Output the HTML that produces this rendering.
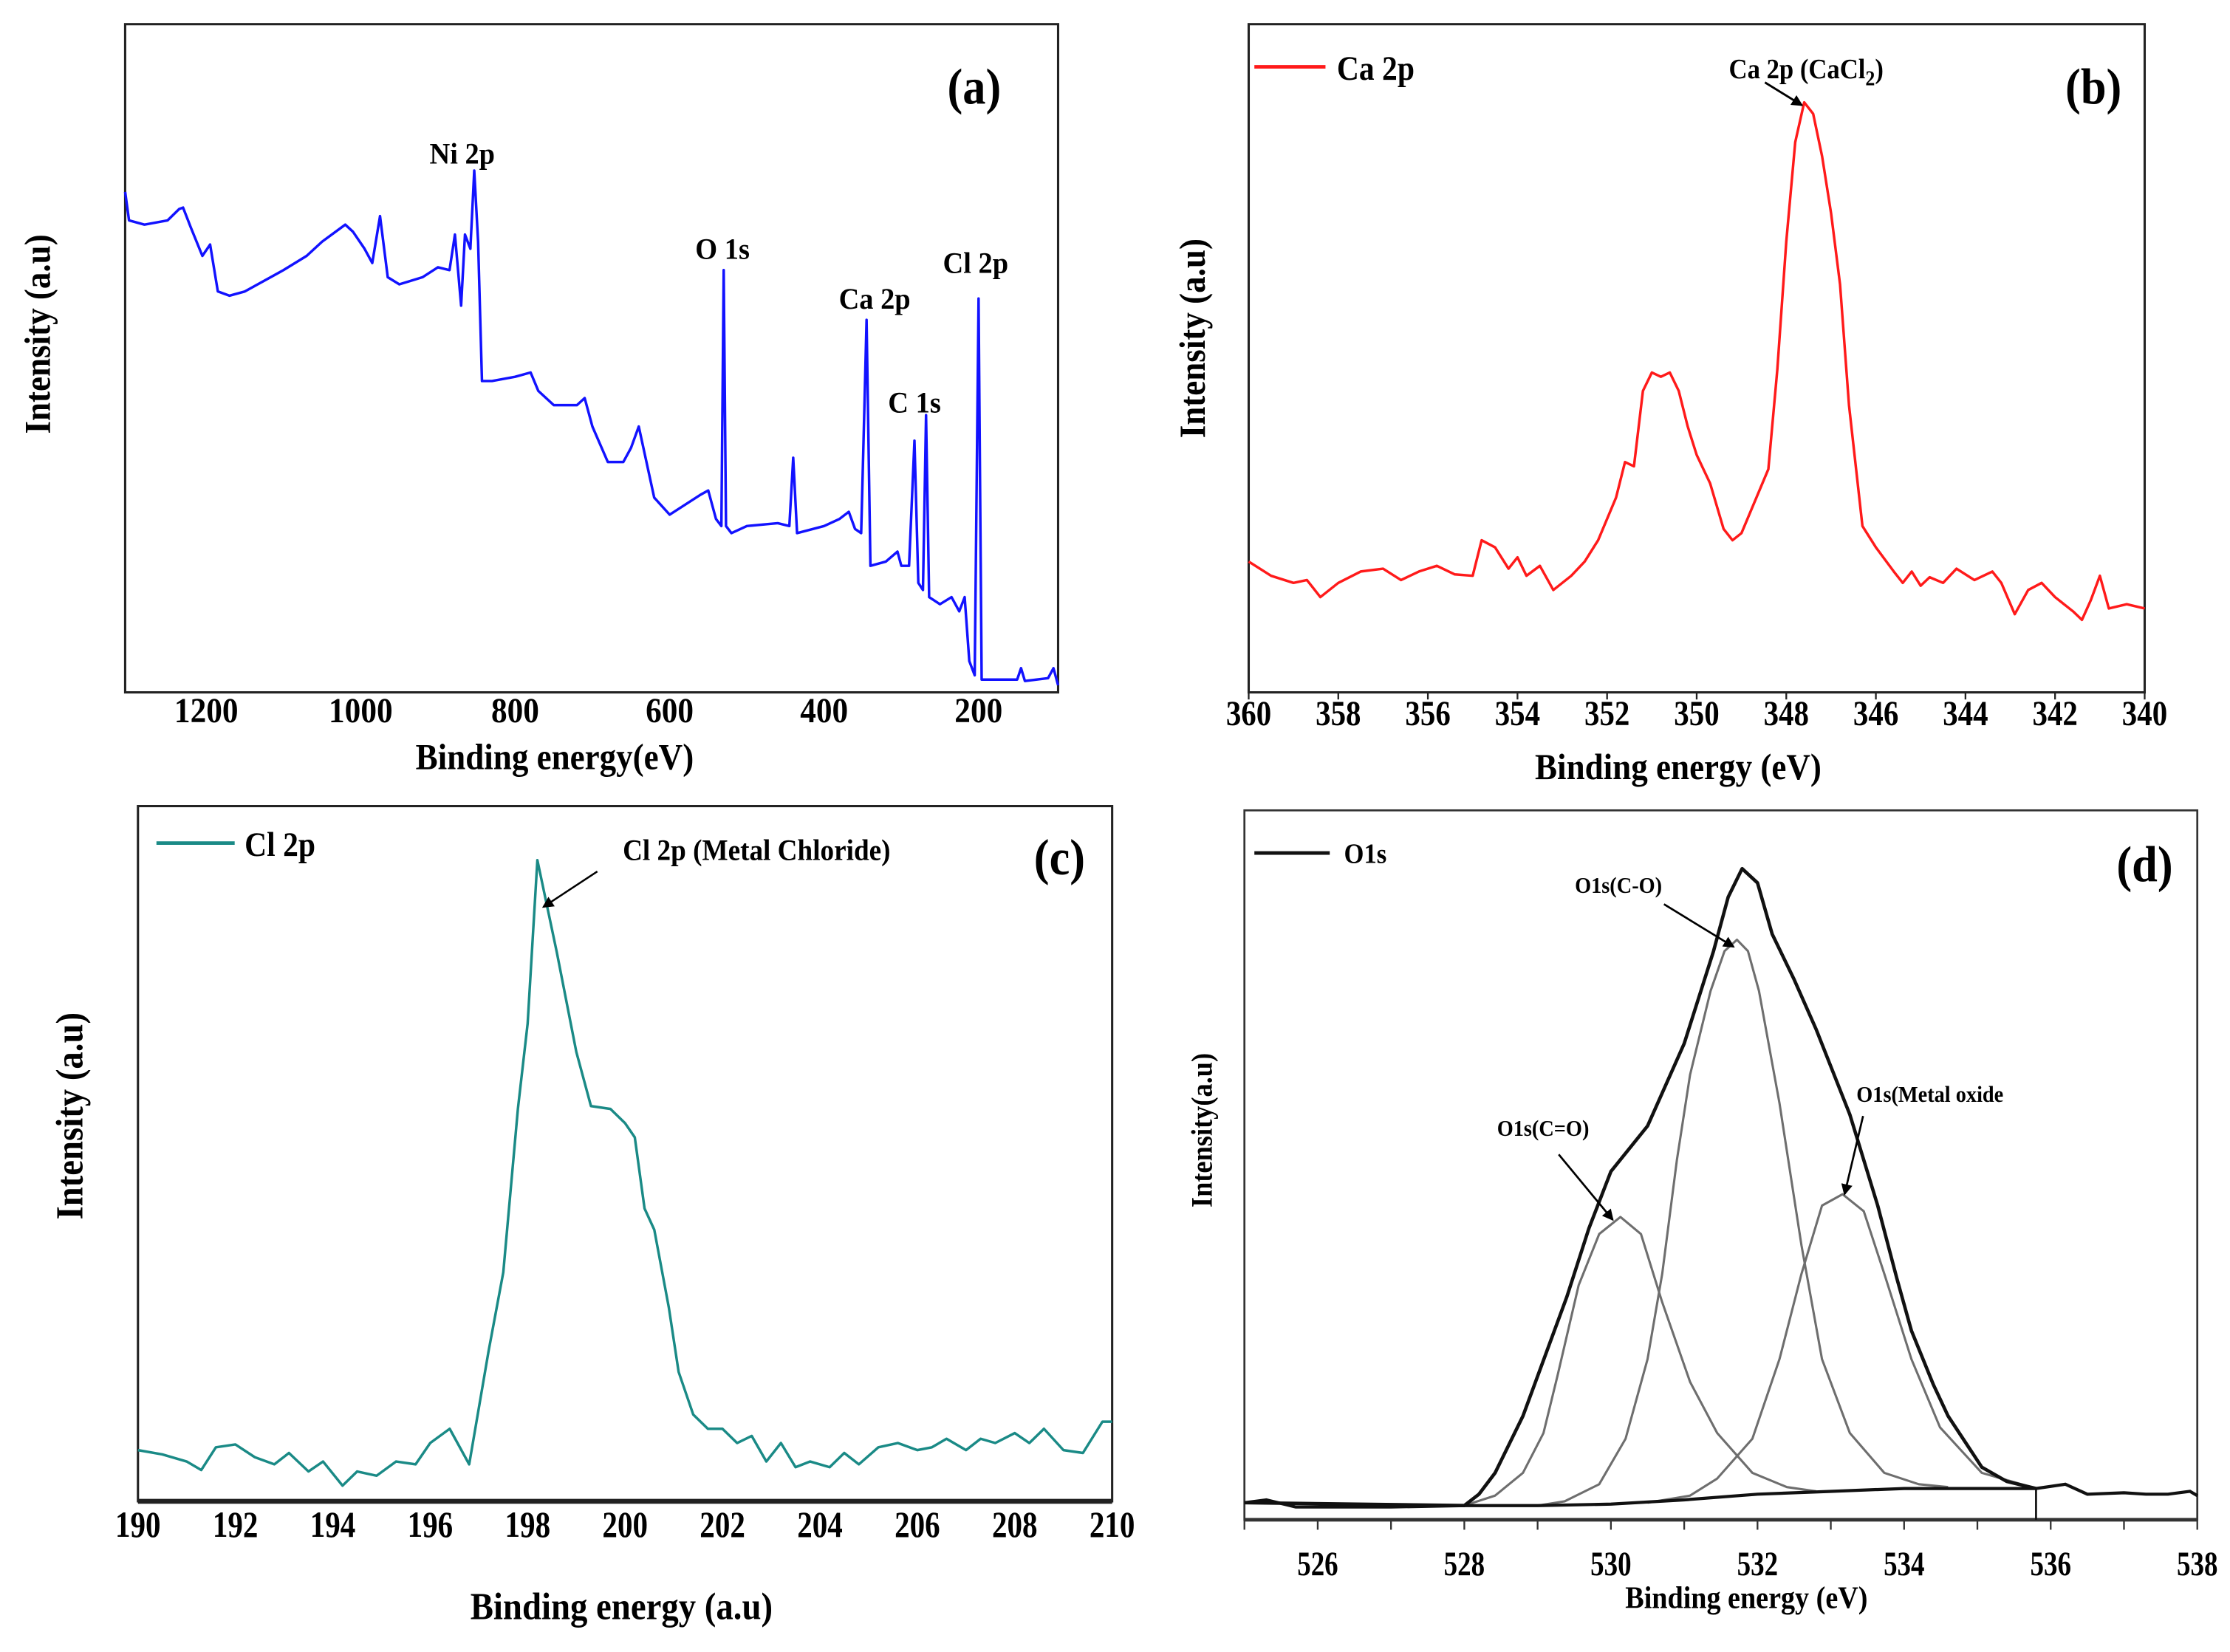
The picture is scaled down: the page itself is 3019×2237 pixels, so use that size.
<!DOCTYPE html>
<html><head><meta charset="utf-8">
<style>
html,body{margin:0;padding:0;background:#fff;}
svg{display:block;}
text{font-family:"Liberation Serif",serif;font-weight:bold;fill:#000;}
</style></head>
<body>
<svg id="fig" width="3019" height="2237" viewBox="0 0 1568 1162" preserveAspectRatio="none" xmlns="http://www.w3.org/2000/svg">
<defs>
<marker id="arr" markerWidth="8" markerHeight="8" refX="7" refY="4" orient="auto" markerUnits="userSpaceOnUse">
<path d="M0,0 L8,4 L0,8 z" fill="#000"/>
</marker>
</defs>
</svg>
<script>
// ---------- Panel (a) survey ----------
const surveyEnergy = [1305,1300,1280,1250,1235,1230,1220,1205,1195,1185,1170,1150,1100,1070,1050,1020,1010,995,985,975,965,950,920,900,885,878,870,865,858,853,848,843,830,800,780,770,750,720,710,700,680,660,650,640,630,620,600,560,550,540,533,530,527,520,500,460,445,440,435,400,380,368,360,352,348,345,340,320,305,300,290,283,278,272,268,264,250,235,225,218,212,205,200,196,180,150,145,140,110,103,97];
const surveyIntensity = [352,332,329,332,340,341,327,307,315,282,279,282,297,307,317,329,324,312,302,335,292,287,292,299,297,322,272,322,312,367,317,219,219,222,225,212,202,202,207,187,162,162,172,187,162,137,125,139,142,122,117,297,117,112,117,119,117,165,112,117,122,127,115,112,197,262,89,92,99,89,89,177,77,72,195,67,62,67,57,67,22,12,277,9,9,9,17,8,10,17,5];
const surveyTicks = [1200,1000,800,600,400,200];
// ---------- Panel (b) Ca 2p ----------
const caEnergy = [360,359.5,359,358.7,358.4,358,357.5,357,356.6,356.2,355.8,355.4,355,354.8,354.5,354.2,354,353.8,353.5,353.2,353,352.8,352.5,352.2,351.8,351.6,351.4,351.2,351,350.8,350.6,350.4,350.2,350,349.7,349.4,349.2,349,348.6,348.4,348.2,348,347.8,347.6,347.4,347.2,347,346.8,346.6,346.3,346,345.6,345.4,345.2,345,344.8,344.5,344.2,343.8,343.4,343.2,342.9,342.6,342.3,342,341.6,341.4,341.2,341,340.8,340.4,340];
const caIntensity = [92,82,77,79,67,77,85,87,79,85,89,83,82,107,102,87,95,82,89,72,77,82,92,107,137,162,159,212,225,222,225,212,187,167,147,115,107,112,142,157,227,317,387,415,407,377,337,287,202,117,102,85,77,85,75,81,77,87,79,85,77,55,72,77,67,57,51,65,82,59,62,59];
const caTicks = [360,358,356,354,352,350,348,346,344,342,340];
// ---------- Panel (c) Cl 2p ----------
const clEnergy = [190,190.5,191,191.3,191.6,192,192.4,192.8,193.1,193.5,193.8,194.2,194.5,194.9,195.3,195.7,196,196.4,196.8,197.2,197.5,197.8,198,198.2,198.6,199,199.3,199.7,200,200.2,200.4,200.6,200.9,201.1,201.4,201.7,202,202.3,202.6,202.9,203.2,203.5,203.8,204.2,204.5,204.8,205.2,205.6,206,206.3,206.6,207,207.3,207.6,208,208.3,208.6,209,209.4,209.8,210];
const clIntensity = [36,33,28,22,38,40,31,26,34,21,28,11,21,18,28,26,41,51,26,106,161,276,336,451,386,316,278,276,266,256,206,191,136,91,61,51,51,41,46,28,41,24,28,24,34,26,38,41,36,38,44,36,44,41,48,41,51,36,34,56,56];
const clTicks = [190,192,194,196,198,200,202,204,206,208,210];
// ---------- Panel (d) O 1s ----------
const oBaseE = [525,525.3,525.7,526,527,528,529,530,531,532,533,534,535,535.8,536.2,536.5,537,537.3,537.6,537.9,538];
const oBaseI = [12,14,9,9,9,10,10,11,14,18,20,22,22,22,25,18,19,18,18,20,17];
const oEnvE = [525,528,528.2,528.42,528.8,529.1,529.4,529.7,530,530.5,531,531.4,531.6,531.79,532,532.2,532.5,532.8,533.26,533.64,533.9,534.1,534.4,534.6,535.06,535.4,535.8];
const oEnvI = [12,10,18,33,73,115,157,205,245,277,335,400,438,458,448,412,380,345,285,221,170,133,95,73,37,27,22];
const oCOE = [529,529.37,529.84,530.2,530.5,530.7,530.9,531.08,531.36,531.55,531.72,531.87,532.02,532.3,532.6,532.88,533.26,533.73,534.2,534.6];
const oCOI = [10,13,25,57,113,173,253,313,372,400,408,400,372,293,193,113,61,33,25,23];
const oCdOE = [528,528.42,528.8,529.08,529.27,529.56,529.84,530.13,530.41,530.7,531.08,531.45,531.93,532.4,532.8];
const oCdOI = [10,17,33,61,101,165,201,213,201,153,97,61,33,23,20];
const oMOE = [530.5,531.08,531.45,531.93,532.3,532.6,532.88,533.16,533.45,533.73,534.1,534.49,535.06,535.6,535.8];
const oMOI = [12,17,29,57,113,173,221,229,217,173,113,65,33,25,22];
const oTicks = [526,528,530,532,534,536,538];
const oMinor = [525,527,529,531,533,535,537];

const NS = "http://www.w3.org/2000/svg";
const svg = document.getElementById('fig');
function el(tag, attrs, parent){
  const e = document.createElementNS(NS, tag);
  for (const k in attrs) e.setAttribute(k, attrs[k]);
  (parent || svg).appendChild(e);
  return e;
}
function txt(s, x, y, size, anchor, sx, parent, rot){
  const t = el('text', {'font-size': size, 'text-anchor': anchor || 'middle'}, parent);
  let tr = 'translate(' + x + ',' + y + ')';
  if (rot) tr += ' rotate(' + rot + ')';
  tr += ' scale(' + (sx || 1) + ',1)';
  t.setAttribute('transform', tr);
  t.textContent = s;
  return t;
}
function lin(d0, d1, r0, r1){ return v => r0 + (v - d0) * (r1 - r0) / (d1 - d0); }
function path(xs, ys, sx, sy){
  let d = '';
  for (let i = 0; i < xs.length; i++) d += (i ? 'L' : 'M') + sx(xs[i]).toFixed(2) + ',' + sy(ys[i]).toFixed(2);
  return d;
}

// ===== Panel a =====
{
  const g = el('g', {});
  
  
  const L = 88, R = 744, T = 17, B = 487;
  const sx = lin(1305, 97, L, R), sy = lin(0, 470, B, T);
  const fr = el('rect', {x: L, y: T, width: R - L, height: B - T, fill: 'none', stroke: '#222', 'stroke-width': 1.6}, g);
  
  
  const p = el('path', {d: path(surveyEnergy, surveyIntensity, sx, sy), fill: 'none', stroke: '#1212ff', 'stroke-width': 1.8, 'stroke-linejoin': 'round'}, g);
  
  
  surveyTicks.forEach(v => {
    const t = txt(String(v), sx(v), 508, 25, 'middle', 0.9, g);
    
    
  });
  let t = txt('Binding energy(eV)', 390, 541, 26, 'middle', 0.9, g);
   
  t = txt('Intensity (a.u)', 35, 235, 26, 'middle', 0.9, g, -90);
   
  t = txt('(a)', 685, 73, 36, 'middle', 0.9, g);
   
  [['Ni 2p', 325, 115], ['O 1s', 508, 182], ['Ca 2p', 615, 217], ['C 1s', 643, 290], ['Cl 2p', 686, 192]].forEach(a => {
    const q = txt(a[0], a[1], a[2], 21, 'middle', 0.95, g);
    
    
  });
}

// ===== Panel b =====
{
  const g = el('g', {});
  
  
  const L = 878, R = 1508, T = 17, B = 487;
  const sx = lin(360, 340, L, R), sy = lin(0, 470, B, T);
  const fr = el('rect', {x: L, y: T, width: R - L, height: B - T, fill: 'none', stroke: '#222', 'stroke-width': 1.6}, g);
  
  
  const p = el('path', {d: path(caEnergy, caIntensity, sx, sy), fill: 'none', stroke: '#ff1a1a', 'stroke-width': 1.8, 'stroke-linejoin': 'round'}, g);
  
  
  caTicks.forEach(v => {
    const k = el('line', {x1: sx(v), x2: sx(v), y1: B, y2: B + 5, stroke: '#222', 'stroke-width': 1.2}, g);
    
    
    const t = txt(String(v), sx(v), 510, 25, 'middle', 0.85, g);
    
    
  });
  let t = txt('Binding energy (eV)', 1180, 548, 26, 'middle', 0.9, g);
   
  t = txt('Intensity (a.u)', 847, 238, 26, 'middle', 0.9, g, -90);
   
  t = txt('(b)', 1472, 73, 36, 'middle', 0.9, g);
   
  const lg = el('line', {x1: 882, x2: 932, y1: 47, y2: 47, stroke: '#ff1a1a', 'stroke-width': 2.5}, g);
   
  t = txt('Ca 2p', 940, 56, 24, 'start', 0.9, g);
   
  t = el('text', {'font-size': 20, 'text-anchor': 'middle', transform: 'translate(1270,55) scale(0.9,1)'}, g);
  t.innerHTML = 'Ca 2p (CaCl<tspan font-size="15" dy="5">2</tspan><tspan dy="-5">)</tspan>';
   
  const a = el('line', {x1: 1241, y1: 58, x2: 1267, y2: 74, stroke: '#000', 'stroke-width': 1.5, 'marker-end': 'url(#arr)'}, g);
   
}

// ===== Panel c =====
{
  const g = el('g', {});
  
  
  const L = 97, R = 782, T = 567, B = 1056;
  const sx = lin(190, 210, L, R), sy = lin(0, 489, B, T);
  const fr = el('rect', {x: L, y: T, width: R - L, height: B - T, fill: 'none', stroke: '#222', 'stroke-width': 1.6}, g);
  
  
  const ax = el('line', {x1: L, x2: R, y1: B, y2: B, stroke: '#222', 'stroke-width': 3.5}, g);
   
  const p = el('path', {d: path(clEnergy, clIntensity, sx, sy), fill: 'none', stroke: '#1a8a86', 'stroke-width': 1.8, 'stroke-linejoin': 'round'}, g);
  
  
  clTicks.forEach(v => {
    const t = txt(String(v), sx(v), 1081, 26, 'middle', 0.82, g);
    
    
  });
  let t = txt('Binding energy (a.u)', 437, 1139, 27, 'middle', 0.9, g);
   
  t = txt('Intensity (a.u)', 58, 785, 27, 'middle', 0.9, g, -90);
   
  t = txt('(c)', 745, 615, 36, 'middle', 0.9, g);
   
  const lg = el('line', {x1: 110, x2: 165, y1: 593, y2: 593, stroke: '#1a8a86', 'stroke-width': 2.5}, g);
   
  t = txt('Cl 2p', 172, 602, 24, 'start', 0.9, g);
   
  t = txt('Cl 2p (Metal Chloride)', 532, 605, 21, 'middle', 0.92, g);
   
  const a = el('line', {x1: 420, y1: 613, x2: 382, y2: 638, stroke: '#000', 'stroke-width': 1.3, 'marker-end': 'url(#arr)'}, g);
   
}

// ===== Panel d =====
{
  const g = el('g', {});
  
  
  const L = 875, R = 1545, T = 570, B = 1069;
  const sx = lin(525, 538, L, R), sy = lin(0, 499, B, T);
  const fr = el('rect', {x: L, y: T, width: R - L, height: B - T, fill: 'none', stroke: '#333', 'stroke-width': 1.4}, g);
  
  
  const ax = el('line', {x1: L, x2: R, y1: B, y2: B, stroke: '#333', 'stroke-width': 2.5}, g);
   
  oTicks.concat(oMinor).forEach(v => {
    const k = el('line', {x1: sx(v), x2: sx(v), y1: B, y2: B + 7, stroke: '#333', 'stroke-width': 1.2}, g);
    
    
  });
  oTicks.forEach(v => {
    const t = txt(String(v), sx(v), 1108, 24, 'middle', 0.8, g);
    
    
  });
  const comps = [[oCdOE, oCdOI, 'component-c-double-o'], [oCOE, oCOI, 'component-c-o'], [oMOE, oMOI, 'component-metal-oxide']];
  comps.forEach(c => {
    const q = el('path', {d: path(c[0], c[1], sx, sy), fill: 'none', stroke: '#6e6e6e', 'stroke-width': 1.6, 'stroke-linejoin': 'round'}, g);
    
    
  });
  let q = el('path', {d: path(oBaseE, oBaseI, sx, sy), fill: 'none', stroke: '#111', 'stroke-width': 2.2}, g);
   
  q = el('path', {d: path(oEnvE, oEnvI, sx, sy), fill: 'none', stroke: '#111', 'stroke-width': 2.4, 'stroke-linejoin': 'round'}, g);
   
  q = el('line', {x1: sx(535.8), x2: sx(535.8), y1: sy(22), y2: B, stroke: '#111', 'stroke-width': 1.4}, g);
   
  let t = txt('Binding energy (eV)', 1228, 1131, 22, 'middle', 0.9, g);
   
  t = txt('Intensity(a.u)', 852, 795, 21, 'middle', 0.9, g, -90);
   
  t = txt('(d)', 1508, 620, 36, 'middle', 0.9, g);
   
  const lg = el('line', {x1: 882, x2: 935, y1: 600, y2: 600, stroke: '#111', 'stroke-width': 2.5}, g);
   
  t = txt('O1s', 945, 607, 20, 'start', 0.9, g);
   
  [['O1s(C-O)', 1138, 628], ['O1s(C=O)', 1085, 799], ['O1s(Metal oxide', 1357, 775]].forEach(a => {
    const z = txt(a[0], a[1], a[2], 16, 'middle', 0.92, g);
    
    
  });
  [[1170, 636, 1219, 666], [1096, 812, 1134, 858], [1310, 785, 1297, 840]].forEach(a => {
    const z = el('line', {x1: a[0], y1: a[1], x2: a[2], y2: a[3], stroke: '#000', 'stroke-width': 1.4, 'marker-end': 'url(#arr)'}, g);
    
    
  });
}
</script>
</body></html>
